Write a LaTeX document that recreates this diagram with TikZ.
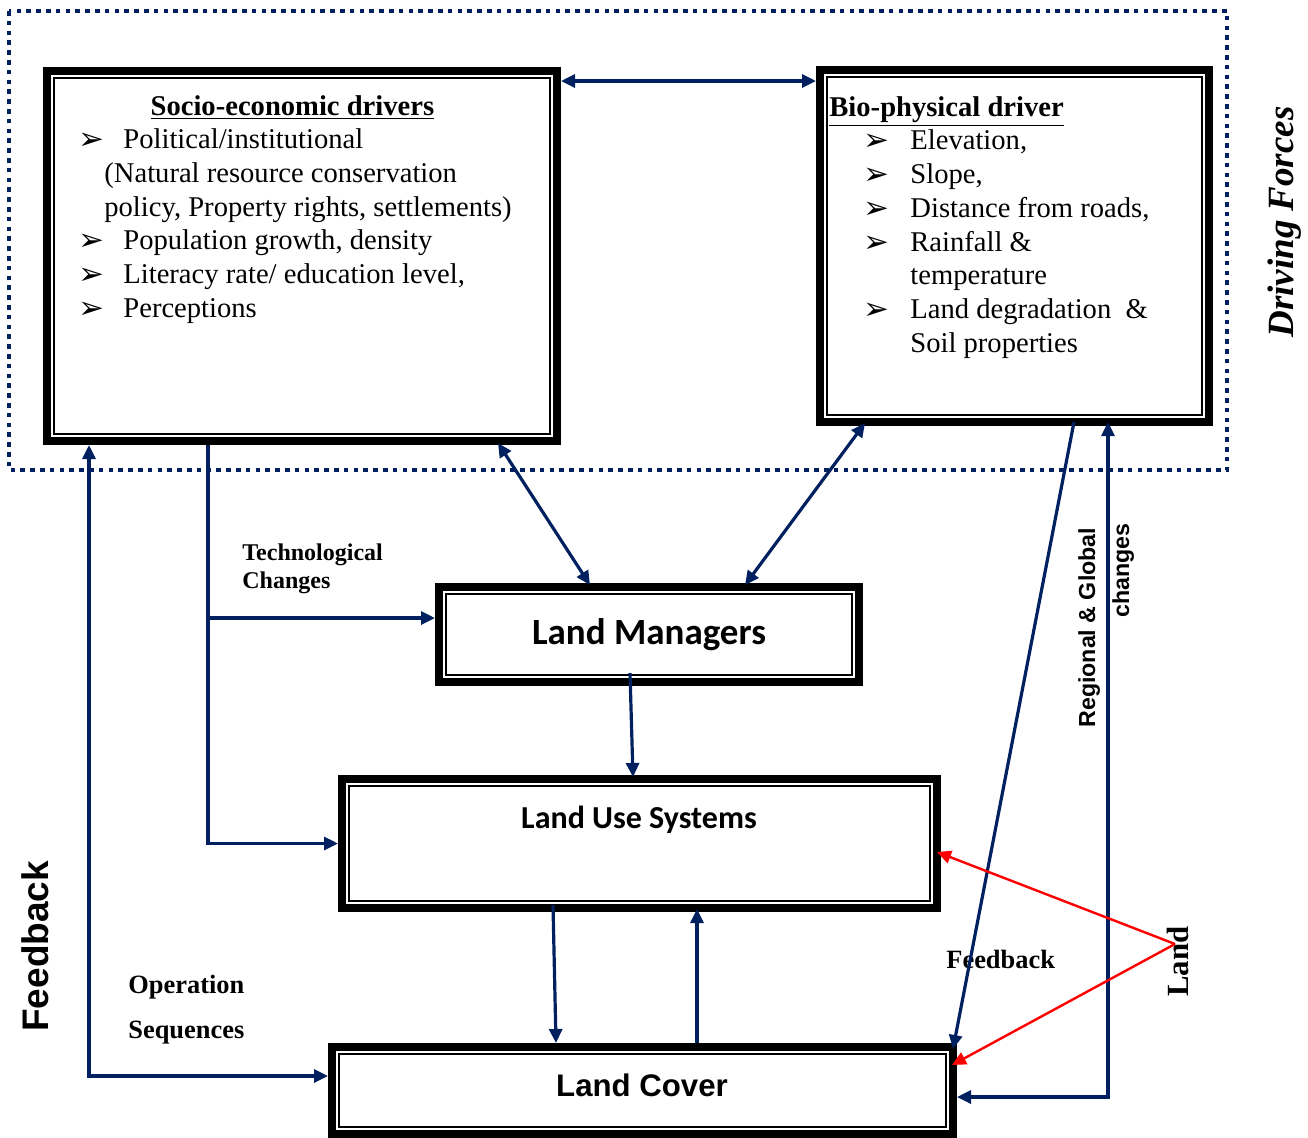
\documentclass[tikz,border=0pt]{standalone}
\usepackage{fontspec}
\setmainfont{Liberation Serif}
\newfontfamily\arialf{Liberation Sans}
\newfontfamily\calibf{Carlito}
\newfontfamily\dejavf{DejaVu Sans}
\usetikzlibrary{arrows.meta,calc}
\definecolor{navy}{HTML}{002060}
\newcommand\bulmark{{\dejavf\fontsize{15.5}{15}\selectfont\raisebox{-0.5pt}{➢}}}
\newcommand\tribox[5]{%
  \node[inner sep=0pt, outer sep=0pt, minimum width=#4, minimum height=#5] (#1) at (#2,#3) {};
  \draw[line width=4pt] ([xshift=2pt,yshift=-2pt]#1.north west) rectangle ([xshift=-2pt,yshift=2pt]#1.south east);
  \draw[line width=0.75pt] ([xshift=5.5pt,yshift=-5.5pt]#1.north west) rectangle ([xshift=-5.5pt,yshift=5.5pt]#1.south east);
}
\tikzset{
  arr/.style={color=navy, line width=1.6pt, -{Triangle[length=7pt,width=6.5pt]}},
  dblarr/.style={color=navy, line width=1.6pt, {Triangle[length=7pt,width=6.5pt]}-{Triangle[length=7pt,width=6.5pt]}},
  redarr/.style={color=red, line width=1.2pt, -{Triangle[length=7pt,width=6.5pt]}},
  frame/.style={draw=navy, line width=2.1pt, dash pattern=on 2.3pt off 2.6pt},
  lbl/.style={inner sep=0pt}
}
\begin{document}
\begin{tikzpicture}[x=0.5pt,y=-0.5pt]
\useasboundingbox (0,0) rectangle (1308,1137);
% dotted frame of driving forces
\draw[frame] (9,11) rectangle (1227,470);
% boxes
\tribox{socio}{302}{256}{259pt}{189pt}
\tribox{bio}{1014.5}{246}{198.5pt}{180pt}
\tribox{mgr}{649}{634.5}{214pt}{51.5pt}
\tribox{lus}{639.5}{843.5}{301.5pt}{68.5pt}
\tribox{lc}{642.5}{1090.5}{314.5pt}{47.5pt}
% box texts
\node[lbl, anchor=north west, align=left, font=\fontsize{14.3}{16.9}\selectfont] (sociotxt) at (78,95.5) {%
\makebox[214pt][c]{\bfseries\underline{Socio-economic drivers}}\\[-0.5pt]
\makebox[22.5pt][l]{\bulmark}Political/institutional\\
\hspace*{13pt}(Natural resource conservation\\
\hspace*{13pt}policy, Property rights, settlements)\\
\makebox[22.5pt][l]{\bulmark}Population growth, density\\
\makebox[22.5pt][l]{\bulmark}Literacy rate/ education level,\\
\makebox[22.5pt][l]{\bulmark}Perceptions};
\node[lbl, anchor=north west, align=left, font=\fontsize{14.3}{16.85}\selectfont] (biotxt) at (829,96) {%
{\bfseries\underline{Bio-physical driver}}\\
\hspace*{17pt}\makebox[23.5pt][l]{\bulmark}Elevation,\\
\hspace*{17pt}\makebox[23.5pt][l]{\bulmark}Slope,\\
\hspace*{17pt}\makebox[23.5pt][l]{\bulmark}Distance from roads,\\
\hspace*{17pt}\makebox[23.5pt][l]{\bulmark}Rainfall \&\\
\hspace*{40.5pt}temperature\\
\hspace*{17pt}\makebox[23.5pt][l]{\bulmark}Land degradation\ \ \&\\
\hspace*{40.5pt}Soil properties};
\node[lbl, anchor=base, font=\calibf\bfseries\fontsize{18.5}{22}\selectfont] (mgrlbl) at (649,644) {Land Managers};
\node[lbl, anchor=base, font=\calibf\bfseries\fontsize{16}{19}\selectfont] (luslbl) at (639,828) {Land Use Systems};
\node[lbl, anchor=base, font=\arialf\bfseries\fontsize{15.6}{19}\selectfont] (lclbl) at (642,1096) {Land Cover};
% side labels
\node[lbl, rotate=90, anchor=base west, font=\bfseries\itshape\fontsize{18.5}{22}\selectfont] (drv) at (1293,338) {Driving Forces};
\node[lbl, rotate=90, anchor=base west, font=\arialf\bfseries\fontsize{18.5}{22}\selectfont] (fbl) at (48,1032) {Feedback};
\node[lbl, rotate=90, anchor=base west, font=\arialf\bfseries\fontsize{11.6}{14}\selectfont] (reg1) at (1095,728) {Regional \& Global};
\node[lbl, rotate=90, anchor=base east, font=\arialf\bfseries\fontsize{11.6}{14}\selectfont] (reg2) at (1129,523) {changes};
\node[lbl, rotate=90, anchor=base west, font=\bfseries\fontsize{15.4}{18}\selectfont] (landlbl) at (1188,997) {Land};
\node[lbl, anchor=north west, align=left, font=\bfseries\fontsize{12}{14}\selectfont] (tech) at (242,543) {Technological\\Changes};
\node[lbl, anchor=base west, font=\bfseries\fontsize{13.2}{16}\selectfont] (op1) at (128,993) {Operation};
\node[lbl, anchor=base west, font=\bfseries\fontsize{13.2}{16}\selectfont] (op2) at (128,1038) {Sequences};
\node[lbl, anchor=base west, font=\bfseries\fontsize{13.2}{16}\selectfont] (fbt) at (946,968) {Feedback};
% connectors
\draw[dblarr] ($(socio.north east)+(0,14)$) -- ($(bio.north west)+(0,15)$);
\draw[arr] ($(socio.south west)+(165,0)$) |- (lus.west);
\coordinate (tb) at ($(socio.south west)+(165,173)$);
\draw[arr] (tb) -- (tb -| mgr.west);
\draw[dblarr] ($(socio.south west)+(46,0)$) |- ($(lc.north west)+(0,33)$);
\draw[dblarr] ($(socio.south west)+(455,-2)$) -- ($(mgr.north west)+(155,2)$);
\draw[dblarr] ($(bio.south west)+(49,-3)$) -- ($(mgr.north west)+(310,2)$);
\draw[arr] ($(mgr.south west)+(195,-13)$) -- ($(lus.north west)+(295,2)$);
\draw[arr] ($(lus.south west)+(215,-7)$) -- ($(lc.north west)+(228,0)$);
\draw[arr] ($(lc.north west)+(369,0)$) -- ($(lus.south west)+(359,-3)$);
\draw[arr] ($(bio.south west)+(258,-4)$) -- ($(lc.north east)+(-4,6)$);
\draw[dblarr] ($(lc.north east)+(0,54)$) -| ($(bio.south west)+(292,-4)$);
\coordinate (landpt) at (1175,944);
\draw[redarr] (landpt) -- ($(lus.north east)+(-4,77)$);
\draw[redarr] (landpt) -- ($(lc.north east)+(-5,22)$);
\end{tikzpicture}
\end{document}
